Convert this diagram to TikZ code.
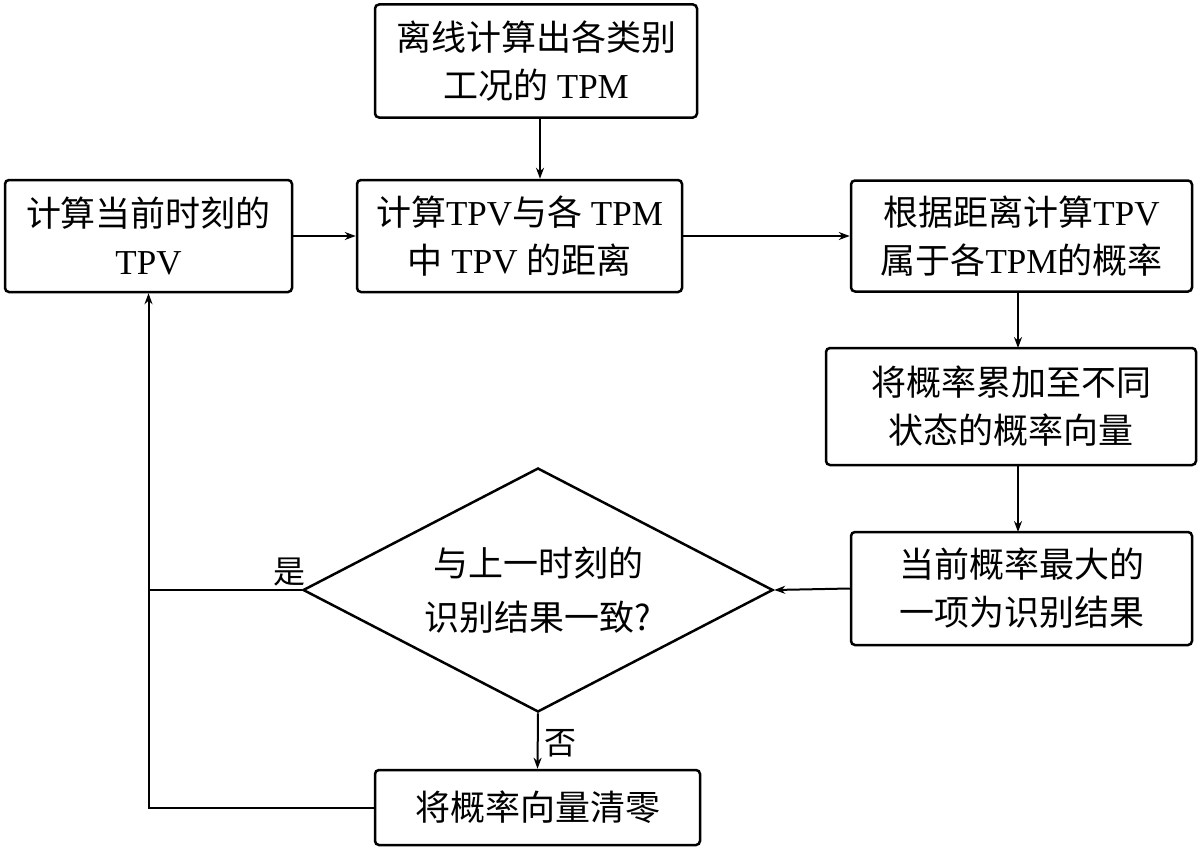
\documentclass[tikz,border=0pt]{standalone}
\usepackage{fontspec}
\setmainfont{Liberation Serif}
\newfontfamily\cjk{Noto Sans CJK SC}
\usetikzlibrary{shapes.geometric,arrows.meta}
\newcommand{\zh}[1]{{\cjk #1}}
\begin{document}
\begin{tikzpicture}[x=1pt,y=-1pt,
  box/.style={draw,line width=2.5pt,rounded corners=4pt,inner sep=0pt,align=center,
    font=\fontsize{35}{48}\selectfont},
  dec/.style={draw,shape=diamond,line width=2.5pt,inner sep=0pt,aspect=2,align=center,
    minimum width=470pt,minimum height=244pt,font=\fontsize{35}{54}\selectfont},
  conn/.style={line width=2pt},
  arr/.style={conn,-{Stealth[length=11pt,width=8pt]}},
  lbl/.style={font=\fontsize{32}{36}\selectfont\cjk,inner sep=0pt}]
\useasboundingbox[fill=white] (0,0) rectangle (1200,851);
\node[box,minimum width=322pt,minimum height=113pt] (b0) at (536,61)
  {\zh{离线计算出各类别}\\\zh{工况的} TPM};
\node[box,minimum width=287pt,minimum height=112pt] (b1) at (148.5,236)
  {\zh{计算当前时刻的}\\TPV};
\node[box,minimum width=325pt,minimum height=112pt] (b2) at (519.5,236)
  {\zh{计算}TPV\zh{与各} TPM\\\zh{中} TPV \zh{的距离}};
\node[box,minimum width=341pt,minimum height=111pt] (b3) at (1021.5,236)
  {\zh{根据距离计算}TPV\\\zh{属于各}TPM\zh{的概率}};
\node[box,minimum width=370pt,minimum height=117pt] (b4) at (1011,406.5)
  {\zh{将概率累加至不同}\\\zh{状态的概率向量}};
\node[box,minimum width=341pt,minimum height=113pt] (b5) at (1021.5,588.5)
  {\zh{当前概率最大的}\\\zh{一项为识别结果}};
\node[dec] (d) at (538,590) {\zh{与上一时刻的}\\\zh{识别结果一致?}};
\node[box,minimum width=325pt,minimum height=75pt] (b6) at (537.5,807.5)
  {\zh{将概率向量清零}};
\coordinate (c0) at (540,117.5);
\draw[arr] (c0) -- (c0 |- b2.north);
\draw[arr] (b1.east) -- (b2.west);
\draw[arr] (b2.east) -- (b3.west);
\draw[arr] (b3.south -| 1018,0) -- (1018,348);
\draw[arr] (1018,465) -- (1018,532);
\draw[arr] (b5.west) -- (d.east);
\draw[arr] (d.south) -- (b6.north);
\draw[arr] (b6.west) -| (b1.south);
\draw[conn] (d.west) -- (b1.south |- d.west);
\node[lbl] (yes) at (289,572) {是};
\node[lbl] (no) at (560,743) {否};
\end{tikzpicture}
\end{document}
